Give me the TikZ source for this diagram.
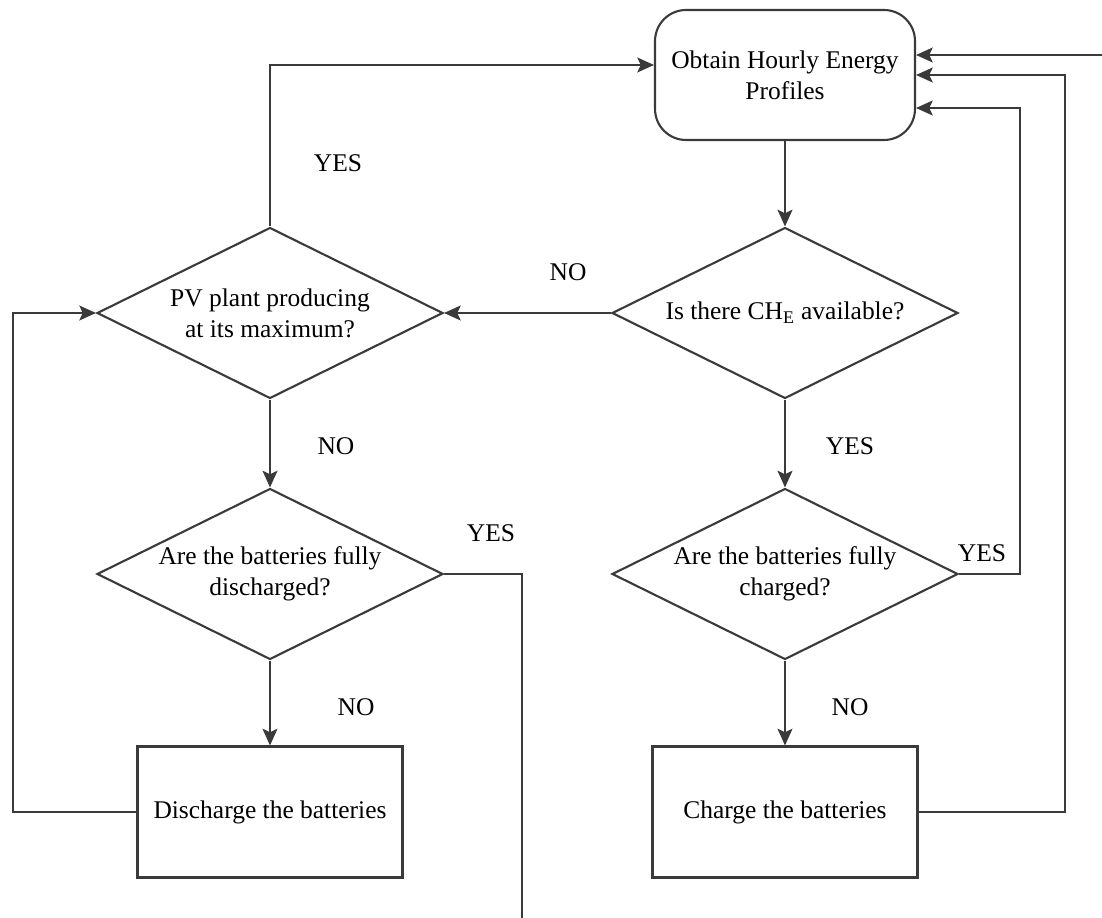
\documentclass[tikz,border=0pt]{standalone}
\usepackage{fontspec}
\setmainfont{Liberation Serif}
\usetikzlibrary{shapes.geometric,arrows.meta}
\definecolor{linec}{HTML}{3A3A3A}
\begin{document}
\begin{tikzpicture}[x=0.02cm,y=-0.02cm,
  font=\fontsize{14.5}{17.5}\selectfont,
  startbox/.style={draw=linec, line width=1.2pt, rounded corners=0.62cm, minimum width=5.2cm, minimum height=2.6cm, align=center, inner sep=0pt},
  decision/.style={draw=linec, line width=1.2pt, diamond, aspect=2, minimum width=6.92cm, minimum height=3.42cm, align=center, inner sep=0pt},
  procbox/.style={draw=linec, line width=1.2pt, rectangle, minimum width=5.3cm, minimum height=2.62cm, align=center, inner sep=0pt},
  conn/.style={draw=linec, line width=1.2pt, -{Stealth[length=9.5pt,width=8.5pt,inset=2pt]}},
  lbl/.style={inner sep=0pt}]
\useasboundingbox (0,0) rectangle (1102,918);
\node[startbox] (start) at (785,75) {Obtain Hourly Energy\\Profiles};
\node[decision] (q1) at (785,313) {Is there CH$_{\mathrm{E}}$ available?};
\node[decision] (pv) at (270,313) {PV plant producing\\at its maximum?};
\node[decision] (qd) at (270,574) {Are the batteries fully\\discharged?};
\node[decision] (qc) at (785,574) {Are the batteries fully\\charged?};
\node[procbox] (dis) at (270,812) {Discharge the batteries};
\node[procbox] (chg) at (785,812) {Charge the batteries};
% labels
\node[lbl] (l1) at (338,163) {YES};
\node[lbl] (l2) at (568,272) {NO};
\node[lbl] (l3) at (336,446) {NO};
\node[lbl] (l4) at (491,533) {YES};
\node[lbl] (l5) at (356,707) {NO};
\node[lbl] (l6) at (850,446) {YES};
\node[lbl] (l7) at (982,553) {YES};
\node[lbl] (l8) at (850,707) {NO};
% coordinates
\coordinate (lc) at (13,812);
\coordinate (rc1) at (1020,574);
\coordinate (rc2) at (1065,812);
\coordinate (dc) at (522,574);
\coordinate (db) at (522,960);
\coordinate (bb) at (1130,960);
\coordinate (bt) at (1130,55);
% connectors
\draw[conn] (start) -- (q1);
\draw[conn] (q1) -- (pv);
\draw[conn] (pv.north) |- (start.west |- 0,65);
\draw[conn] (pv) -- (qd);
\draw[conn] (qd) -- (dis);
\draw[conn] (dis.west) -- (lc) |- (pv.west);
\draw[conn] (q1) -- (qc);
\draw[conn] (qc) -- (chg);
\draw[conn] (qc.east) -- (rc1) |- (start.east |- 0,108);
\draw[conn] (chg.east) -- (rc2) |- (start.east |- 0,75);
\begin{scope}
\clip (0,0) rectangle (1102,918);
\draw[conn] (qd.east) -- (dc) -- (db) -- (bb) -- (bt) -- (start.east |- 0,55);
\end{scope}
\end{tikzpicture}
\end{document}
